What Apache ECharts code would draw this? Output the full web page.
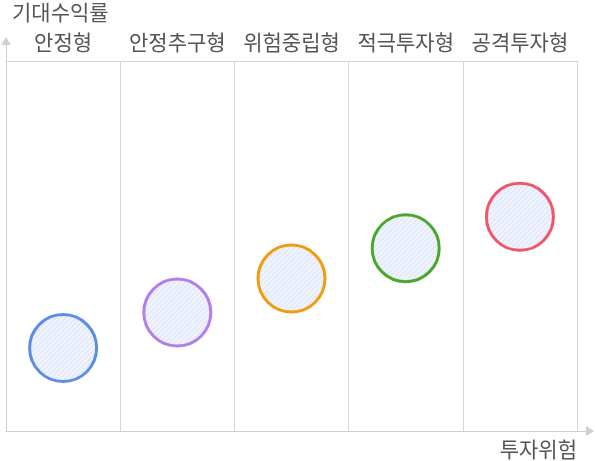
<!DOCTYPE html>
<html>
<head>
<meta charset="utf-8">
<script src="https://cdn.jsdelivr.net/npm/echarts@6/dist/echarts.min.js"></script>
<style>html,body{margin:0;padding:0;background:#fff}#c{width:595px;height:461px}</style>
</head>
<body>
<div id="c"></div>
<script>
const categories = ['안정형', '안정추구형', '위험중립형', '적극투자형', '공격투자형'];
const returnValues = [22.4, 32.0, 41.2, 49.4, 57.9];
const borderColors = ['#5b8ce6', '#b27fe8', '#f29b0c', '#4ba52e', '#f0566b'];
const xAxisName = '투자위험';
const yAxisName = '기대수익률';

const SYMBOL_SIZE = 67;
function makePattern() {
  const s = 5;
  const cv = document.createElement('canvas');
  cv.width = s; cv.height = s;
  const ctx = cv.getContext('2d');
  ctx.fillStyle = '#e2e9fb';
  ctx.fillRect(0, 0, s, s);
  ctx.strokeStyle = 'rgba(255,255,255,0.95)';
  ctx.lineWidth = 1.2;
  ctx.beginPath();
  ctx.moveTo(-1, s + 1); ctx.lineTo(s + 1, -1);
  ctx.moveTo(-1, 1); ctx.lineTo(1, -1);
  ctx.moveTo(s - 1, s + 1); ctx.lineTo(s + 1, s - 1);
  ctx.stroke();
  return cv;
}
const k = 2 / SYMBOL_SIZE;
const pattern = { image: makePattern(), repeat: 'repeat', scaleX: k, scaleY: k };

const FONT = '"Noto Sans CJK KR", "Noto Sans", sans-serif';
const FS = 21;
const chart = echarts.init(document.getElementById('c'), null, { renderer: 'canvas' });
chart.setOption({
  animation: false,
  backgroundColor: '#fff',
  grid: [
    { left: 6, right: 18, top: 61, bottom: 30 },
    { left: 6, right: 5, top: 41, bottom: 30 }
  ],
  xAxis: [
    {
      gridIndex: 0, type: 'category', data: categories, position: 'bottom',
      boundaryGap: true,
      axisLine: { show: false }, axisTick: { show: false }, axisLabel: { show: false },
      splitLine: { show: true, interval: 0, lineStyle: { color: '#d6d6d6', width: 1 } },
      name: xAxisName, nameLocation: 'end', nameGap: 0,
      nameTextStyle: { fontFamily: FONT, fontSize: FS, color: '#555', align: 'right', verticalAlign: 'top', padding: [8, 0, 0, 0] }
    },
    {
      gridIndex: 0, type: 'category', data: categories, position: 'top',
      boundaryGap: true,
      axisLine: { show: true, lineStyle: { color: '#d6d6d6', width: 1 } },
      axisTick: { show: false },
      axisLabel: { interval: 0, fontFamily: FONT, fontSize: FS, color: '#555', margin: 8 },
      splitLine: { show: false }
    },
    {
      gridIndex: 1, type: 'value', min: 0, max: 100,
      axisLine: { show: true, symbol: ['none', 'triangle'], symbolSize: [10, 8], lineStyle: { color: '#cfcfcf', width: 1 } },
      axisTick: { show: false }, axisLabel: { show: false }, splitLine: { show: false }
    }
  ],
  yAxis: [
    {
      gridIndex: 0, type: 'value', min: 0, max: 100, show: false
    },
    {
      gridIndex: 1, type: 'value', min: 0, max: 100,
      axisLine: { show: true, symbol: ['none', 'triangle'], symbolSize: [10, 8], lineStyle: { color: '#cfcfcf', width: 1 } },
      axisTick: { show: false }, axisLabel: { show: false }, splitLine: { show: false },
      name: yAxisName, nameLocation: 'end', nameGap: 29,
      nameTextStyle: { fontFamily: FONT, fontSize: FS, color: '#555', align: 'left', verticalAlign: 'middle', padding: [0, 0, 0, 6] }
    }
  ],
  series: [{
    type: 'scatter',
    xAxisIndex: 0, yAxisIndex: 0,
    symbol: 'circle',
    symbolSize: SYMBOL_SIZE,
    data: returnValues.map((v, i) => ({
      value: [categories[i], v],
      itemStyle: { color: pattern, borderColor: borderColors[i], borderWidth: 3, opacity: 1 }
    }))
  }]
});
</script>
</body>
</html>
